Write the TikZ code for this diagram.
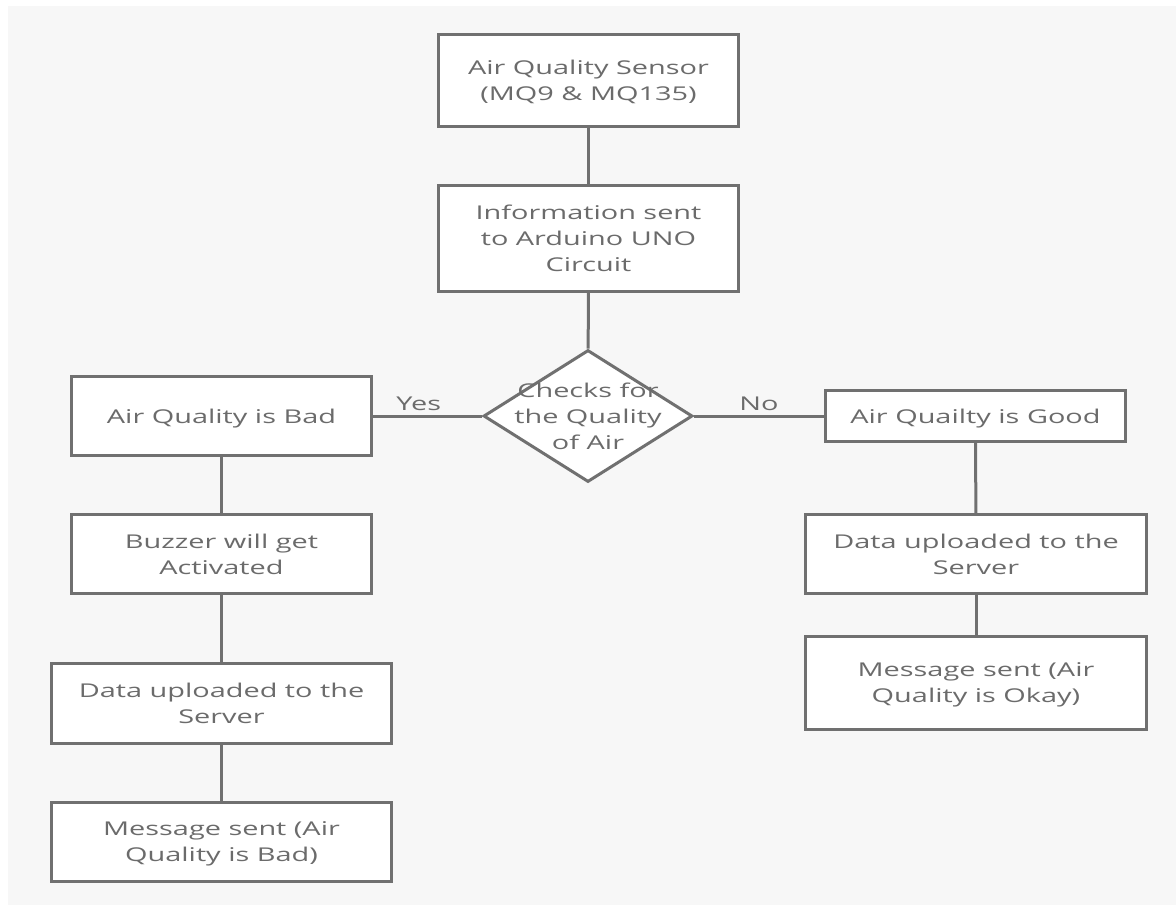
\documentclass[tikz,border=0pt]{standalone}
\usepackage{fontspec}
\setmainfont{Open Sans}[FakeStretch=1.52]
\usetikzlibrary{shapes.geometric}
\definecolor{linegray}{HTML}{707070}
\definecolor{textgray}{HTML}{6B6B6B}
\definecolor{paper}{HTML}{F7F7F7}
\begin{document}
\begin{tikzpicture}[x=1pt,y=-1pt,
	box/.style={draw=linegray,line width=3pt,fill=white,text=textgray,align=center,inner sep=0pt,text depth=0pt,font=\fontsize{19}{26}\selectfont},
	decision/.style={diamond,draw=linegray,line width=3pt,fill=white,minimum width=209pt,minimum height=132pt,inner sep=0pt},
	link/.style={draw=linegray,line width=3pt},
	answer/.style={text=textgray,font=\fontsize{19}{26}\selectfont}]
\useasboundingbox (0,0) rectangle (1176,905);
\fill[white] (0,0) rectangle (1176,905);
\fill[paper] (8,6) rectangle (1176,905);
% middle column
\node[box,minimum width=300pt,minimum height=92pt] (sensor) at (588.5,80.5) {Air Quality Sensor\\(MQ9 \& MQ135)};
\node[box,minimum width=300pt,minimum height=106pt] (info) at (588.5,238.5) {Information sent\\to Arduino UNO\\Circuit};
\node[decision,label={[text=textgray,align=center,font=\fontsize{19}{26}\selectfont]center:Checks for\\the Quality\\of Air}] (check) at (588,416) {};
% left column
\node[box,minimum width=300pt,minimum height=79pt] (bad) at (221.5,416) {Air Quality is Bad};
\node[box,minimum width=300pt,minimum height=79pt] (buzzer) at (221.5,554) {Buzzer will get\\Activated};
\node[box,minimum width=340pt,minimum height=80pt] (uploadbad) at (221.5,703.5) {Data uploaded to the\\Server};
\node[box,minimum width=340pt,minimum height=79pt] (msgbad) at (221.5,842) {Message sent (Air\\Quality is Bad)};
% right column
\node[box,minimum width=300pt,minimum height=51pt] (good) at (975.5,416) {Air Quailty is Good};
\node[box,minimum width=341pt,minimum height=79pt] (uploadgood) at (976,554) {Data uploaded to the\\Server};
\node[box,minimum width=341pt,minimum height=93pt] (msggood) at (976,683) {Message sent (Air\\Quality is Okay)};
% connectors
\draw[link] (sensor) -- (info);
\draw[link] (info) -- (check);
\draw[link] (check) -- node[answer,above,pos=0.58]{Yes} (bad);
\draw[link] (check) -- node[answer,above]{No} (good);
\draw[link] (bad) -- (buzzer);
\draw[link] (buzzer) -- (uploadbad);
\draw[link] (uploadbad) -- (msgbad);
\draw[link] (good) -- (uploadgood);
\draw[link] (uploadgood) -- (msggood);
\end{tikzpicture}
\end{document}
